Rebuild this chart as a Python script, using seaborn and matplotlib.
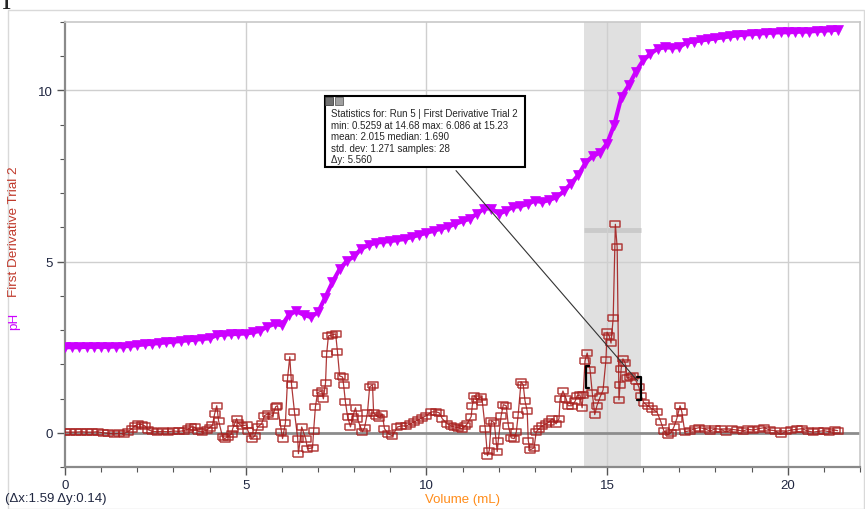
import numpy as np
import matplotlib
matplotlib.use("Agg")
import matplotlib.pyplot as plt
from matplotlib.patches import Rectangle
import seaborn as sns

# --------------------------
# Data
# --------------------------
ph_volume = [0.0, 0.2, 0.4, 0.6, 0.8, 1.0, 1.2, 1.4, 1.6, 1.8, 2.0, 2.2, 2.4, 2.6, 2.8, 3.0,
             3.2, 3.4, 3.6, 3.8, 4.0, 4.2, 4.4, 4.6, 4.8, 5.0, 5.2, 5.4, 5.6, 5.8, 6.0, 6.2,
             6.4, 6.6, 6.8, 7.0, 7.2, 7.4, 7.6, 7.8, 8.0, 8.2, 8.4, 8.6, 8.8, 9.0, 9.2, 9.4,
             9.6, 9.8, 10.0, 10.2, 10.4, 10.6, 10.8, 11.0, 11.2, 11.4, 11.6, 11.8, 12.0, 12.2,
             12.4, 12.6, 12.8, 13.0, 13.2, 13.4, 13.6, 13.8, 14.0, 14.2, 14.4, 14.6, 14.8, 15.0,
             15.2, 15.4, 15.6, 15.8, 16.0, 16.2, 16.4, 16.6, 16.8, 17.0, 17.2, 17.4, 17.6, 17.8,
             18.0, 18.2, 18.4, 18.6, 18.8, 19.0, 19.2, 19.4, 19.6, 19.8, 20.0, 20.2, 20.4, 20.6,
             20.8, 21.0, 21.2, 21.4]
ph_values = [2.50, 2.50, 2.50, 2.51, 2.51, 2.51, 2.51, 2.52, 2.52, 2.54, 2.56, 2.58, 2.60, 2.62, 2.64, 2.66,
             2.68, 2.70, 2.72, 2.74, 2.76, 2.85, 2.87, 2.88, 2.89, 2.90, 2.93, 2.98, 3.10, 3.18, 3.14, 3.45,
             3.55, 3.45, 3.38, 3.52, 3.95, 4.40, 4.78, 5.02, 5.15, 5.38, 5.48, 5.55, 5.58, 5.60, 5.63, 5.66,
             5.72, 5.78, 5.84, 5.90, 5.96, 6.02, 6.10, 6.18, 6.25, 6.40, 6.55, 6.55, 6.40, 6.48,
             6.60, 6.62, 6.68, 6.78, 6.74, 6.80, 6.88, 7.05, 7.28, 7.52, 7.88, 8.08, 8.18, 8.45,
             9.00, 9.82, 10.15, 10.55, 10.88, 11.07, 11.22, 11.26, 11.25, 11.27, 11.40, 11.43, 11.46, 11.49,
             11.52, 11.55, 11.58, 11.61, 11.63, 11.65, 11.66, 11.68, 11.69, 11.70, 11.70, 11.71, 11.72, 11.72,
             11.74, 11.75, 11.76, 11.78]

deriv_volume = [0.0, 0.15, 0.3, 0.45, 0.6, 0.75, 0.9, 1.05, 1.2, 1.35, 1.5, 1.62, 1.74, 1.85, 1.93, 2.02,
                2.12, 2.21, 2.3, 2.42, 2.55, 2.7, 2.85, 3.0, 3.15, 3.28, 3.4, 3.5, 3.6, 3.68, 3.8, 3.92,
                4.0, 4.08, 4.14, 4.2, 4.25, 4.36, 4.42, 4.5, 4.61, 4.64, 4.75, 4.78, 4.89, 5.03, 5.06, 5.17,
                5.25, 5.33, 5.44, 5.52, 5.61, 5.75, 5.83, 5.88, 5.99, 6.02, 6.1, 6.16, 6.22, 6.27, 6.35, 6.44,
                6.46, 6.55, 6.66, 6.71, 6.85, 6.88, 6.93, 6.99, 7.1, 7.15, 7.21, 7.24, 7.29, 7.4, 7.49, 7.54,
                7.6, 7.68, 7.71, 7.76, 7.82, 7.9, 7.96, 8.04, 8.09, 8.23, 8.29, 8.37, 8.43, 8.51, 8.54, 8.62,
                8.7, 8.78, 8.84, 8.95, 9.06, 9.2, 9.31, 9.45, 9.56, 9.67, 9.78, 9.89, 10.0, 10.14, 10.28, 10.36,
                10.44, 10.58, 10.69, 10.77, 10.88, 10.99, 11.08, 11.13, 11.24, 11.27, 11.33, 11.41, 11.52, 11.55,
                11.63, 11.69, 11.74, 11.8, 11.88, 11.96, 11.99, 12.07, 12.13, 12.21, 12.27, 12.35, 12.43, 12.49,
                12.54, 12.62, 12.68, 12.73, 12.79, 12.82, 12.87, 12.98, 13.04, 13.12, 13.2, 13.31, 13.4, 13.48,
                13.59, 13.67, 13.7, 13.78, 13.87, 13.92, 14.03, 14.12, 14.17, 14.25, 14.31, 14.34, 14.39, 14.45,
                14.53, 14.59, 14.66, 14.72, 14.81, 14.89, 14.97, 15.0, 15.06, 15.11, 15.17, 15.23, 15.28, 15.33,
                15.36, 15.39, 15.44, 15.5, 15.55, 15.64, 15.72, 15.8, 15.88, 15.94, 16.02, 16.13, 16.24, 16.38,
                16.49, 16.57, 16.68, 16.77, 16.85, 16.93, 17.02, 17.07, 17.15, 17.29, 17.43, 17.55, 17.7, 17.85,
                18.0, 18.15, 18.3, 18.45, 18.6, 18.75, 18.9, 19.05, 19.2, 19.35, 19.5, 19.65, 19.8, 19.95,
                20.1, 20.25, 20.4, 20.55, 20.7, 20.85, 21.0, 21.15, 21.3, 21.38]
deriv_values = [0.02, 0.02, 0.02, 0.03, 0.02, 0.02, 0.03, 0.0, -0.02, -0.03, -0.02, -0.03, 0.03, 0.12, 0.2, 0.25,
                0.24, 0.2, 0.09, 0.04, 0.03, 0.04, 0.03, 0.05, 0.04, 0.06, 0.1, 0.17, 0.16, 0.04, 0.03, 0.07,
                0.15, 0.22, 0.55, 0.79, 0.35, -0.12, -0.17, -0.12, -0.03, 0.12, 0.41, 0.29, 0.2, 0.23, 0.06, -0.17,
                -0.09, 0.17, 0.26, 0.5, 0.55, 0.5, 0.76, 0.79, 0.03, -0.17, 0.29, 1.6, 2.22, 1.4, 0.61, -0.17,
                -0.61, 0.17, -0.17, -0.47, -0.44, 0.06, 0.76, 1.17, 1.22, 0.99, 1.46, 2.3, 2.83, 2.86, 2.89, 2.36,
                1.66, 1.63, 1.4, 0.9, 0.47, 0.17, 0.47, 0.73, 0.41, 0.03, 0.15, 0.58, 1.34, 1.4, 0.58, 0.5,
                0.44, 0.55, 0.12, -0.03, -0.09, 0.17, 0.2, 0.2, 0.26, 0.32, 0.38, 0.44, 0.5, 0.61, 0.61, 0.58,
                0.41, 0.26, 0.2, 0.17, 0.15, 0.12, 0.2, 0.26, 0.47, 0.79, 1.08, 0.99, 1.05, 0.9,
                0.12, -0.67, -0.52, 0.35, 0.29, -0.55, -0.23, 0.5, 0.82, 0.79, 0.2, -0.15, -0.17, 0.03,
                0.52, 1.49, 1.4, 0.93, 0.64, -0.23, -0.5, -0.44, 0.03, 0.12, 0.2, 0.26, 0.32, 0.41,
                0.26, 0.41, 0.99, 1.22, 0.99, 0.79, 0.79, 0.93, 1.08, 1.11, 0.73, 1.11, 2.1, 2.33,
                1.84, 1.17, 0.53, 0.79, 1.05, 1.25, 2.13, 2.94, 2.83, 2.62, 3.35, 6.09, 5.42, 0.96,
                1.4, 1.87, 2.16, 2.04, 1.6, 1.63, 1.66, 1.52, 1.34, 1.08, 0.87, 0.79, 0.7, 0.61,
                0.32, 0.06, -0.06, 0.0, 0.17, 0.41, 0.79, 0.61, 0.03, 0.06, 0.12, 0.15, 0.12, 0.05,
                0.12, 0.1, 0.02, 0.1, 0.08, 0.05, 0.1, 0.08, 0.12, 0.15, 0.08, 0.06, -0.05, 0.04,
                0.08, 0.1, 0.12, 0.05, 0.02, 0.04, 0.06, 0.03, 0.08, 0.06]

# selected statistics range
stats_range = (14.36, 15.94)
stats_lines = ["Statistics for: Run 5 | First Derivative Trial 2",
               "min: 0.5259 at 14.68 max: 6.086 at 15.23",
               "mean: 2.015 median: 1.690",
               "std. dev: 1.271 samples: 28",
               "\u0394y: 5.560"]

# --------------------------
# Plot
# --------------------------
sns.set_style("white")
plt.rcParams['font.family'] = ['Liberation Sans', 'DejaVu Sans']

W, H = 865, 510
fig = plt.figure(figsize=(W / 100, H / 100), dpi=100)
ax = fig.add_axes([65 / W, 1 - 468 / H, 795 / W, 445 / H])

pink = '#cc00ff'
red = '#a01515'

ax.axvspan(*stats_range, color='#e0e0e0', zorder=0, lw=0)
ax.plot(stats_range, [5.93, 5.93], color='#cacaca', lw=3.5, zorder=0.5, solid_capstyle='butt')

for v in [5, 10, 15, 20]:
    ax.axvline(v, color='#cfcfcf', lw=1, zorder=0.6)
for v in [5, 10]:
    ax.axhline(v, color='#cfcfcf', lw=1, zorder=0.6)
ax.axhline(0, color='#8c8c8c', lw=2, zorder=0.7)

sns.lineplot(x=ph_volume, y=ph_values, ax=ax, color=pink, lw=3, marker='v',
             markersize=7.5, markeredgecolor=pink, markeredgewidth=0.5,
             sort=False, estimator=None, zorder=3)

rect = [(-1, -0.6), (1, -0.6), (1, 0.6), (-1, 0.6), (-1, -0.6)]
sns.lineplot(x=deriv_volume, y=deriv_values, ax=ax, color=red, lw=0.9, marker=rect,
             markersize=7, markerfacecolor='none', markeredgecolor='#a8201f',
             markeredgewidth=1.1, alpha=0.85, sort=False, estimator=None, zorder=4)

# statistics brackets
ax.plot([14.5, 14.42, 14.42, 14.5], [1.95, 1.95, 1.31, 1.31], color='black', lw=1.6, zorder=5)
ax.plot([15.84, 15.93, 15.93, 15.84], [1.63, 1.63, 0.96, 0.96], color='black', lw=1.6, zorder=5)

ax.annotate('', xy=(15.9, 1.45), xytext=(10.77, 7.72),
            arrowprops=dict(arrowstyle='-', color='#333333', lw=0.8), zorder=5)

ax.set_xlim(0, 22)
ax.set_ylim(-1, 12)
ax.set_xticks([0, 5, 10, 15, 20])
ax.set_xticks(range(0, 23), minor=True)
ax.set_yticks([0, 5, 10])
ax.set_yticks(range(-1, 13), minor=True)
ax.tick_params(which='both', direction='out', color='#555555', labelcolor='#1f2640',
               labelsize=9.5, left=True, bottom=True)
ax.tick_params(which='major', length=6, width=1, pad=3)
ax.tick_params(which='minor', length=3.5, width=0.8)
ax.set_xlabel("Volume (mL)", color='#ff8c1a', fontsize=9.5, labelpad=1)
ax.set_ylabel("")

for side in ['left', 'bottom']:
    ax.spines[side].set_color('#8a8a8a')
    ax.spines[side].set_linewidth(1.6)
for side in ['top', 'right']:
    ax.spines[side].set_color('#c8c8c8')
    ax.spines[side].set_linewidth(1.2)

# statistics box (drawn in figure pixels)
fig.add_artist(Rectangle((325 / W, 1 - 168 / H), 200 / W, 71 / H, transform=fig.transFigure,
                         fc='white', ec='black', lw=1.5, zorder=6))
fig.text(331 / W, 1 - 109 / H, "\n".join(stats_lines), fontsize=7, va='top', ha='left',
         linespacing=1.2, zorder=7)
fig.add_artist(Rectangle((325 / W, 1 - 106 / H), 8 / W, 8 / H, transform=fig.transFigure,
                         fc='#707070', ec='#404040', lw=0.6, zorder=8))
fig.add_artist(Rectangle((335 / W, 1 - 106 / H), 8 / W, 8 / H, transform=fig.transFigure,
                         fc='#a0a0a0', ec='#606060', lw=0.6, zorder=8))

fig.text(14 / W, 1 - 321 / H, "pH", color=pink, rotation=90, fontsize=9.7, va='center', ha='center')
fig.text(14 / W, 1 - 232 / H, "First Derivative Trial 2", color='#c0392b', rotation=90,
         fontsize=9.7, va='center', ha='center')
fig.text(5 / W, 1 - 499 / H, "(\u0394x:1.59 \u0394y:0.14)", fontsize=9.5, va='center', ha='left',
         color='#1f2640')
fig.text(2 / W, 1 - 9 / H, "I", fontsize=20, family='Liberation Serif', va='baseline', ha='left')

# outer frame
fig.add_artist(Rectangle((8 / W, 0), (W - 9) / W, 1 - 11 / H, transform=fig.transFigure,
                         fill=False, ec='#d9d9d9', lw=1))

fig.savefig("out.png", dpi=100)
